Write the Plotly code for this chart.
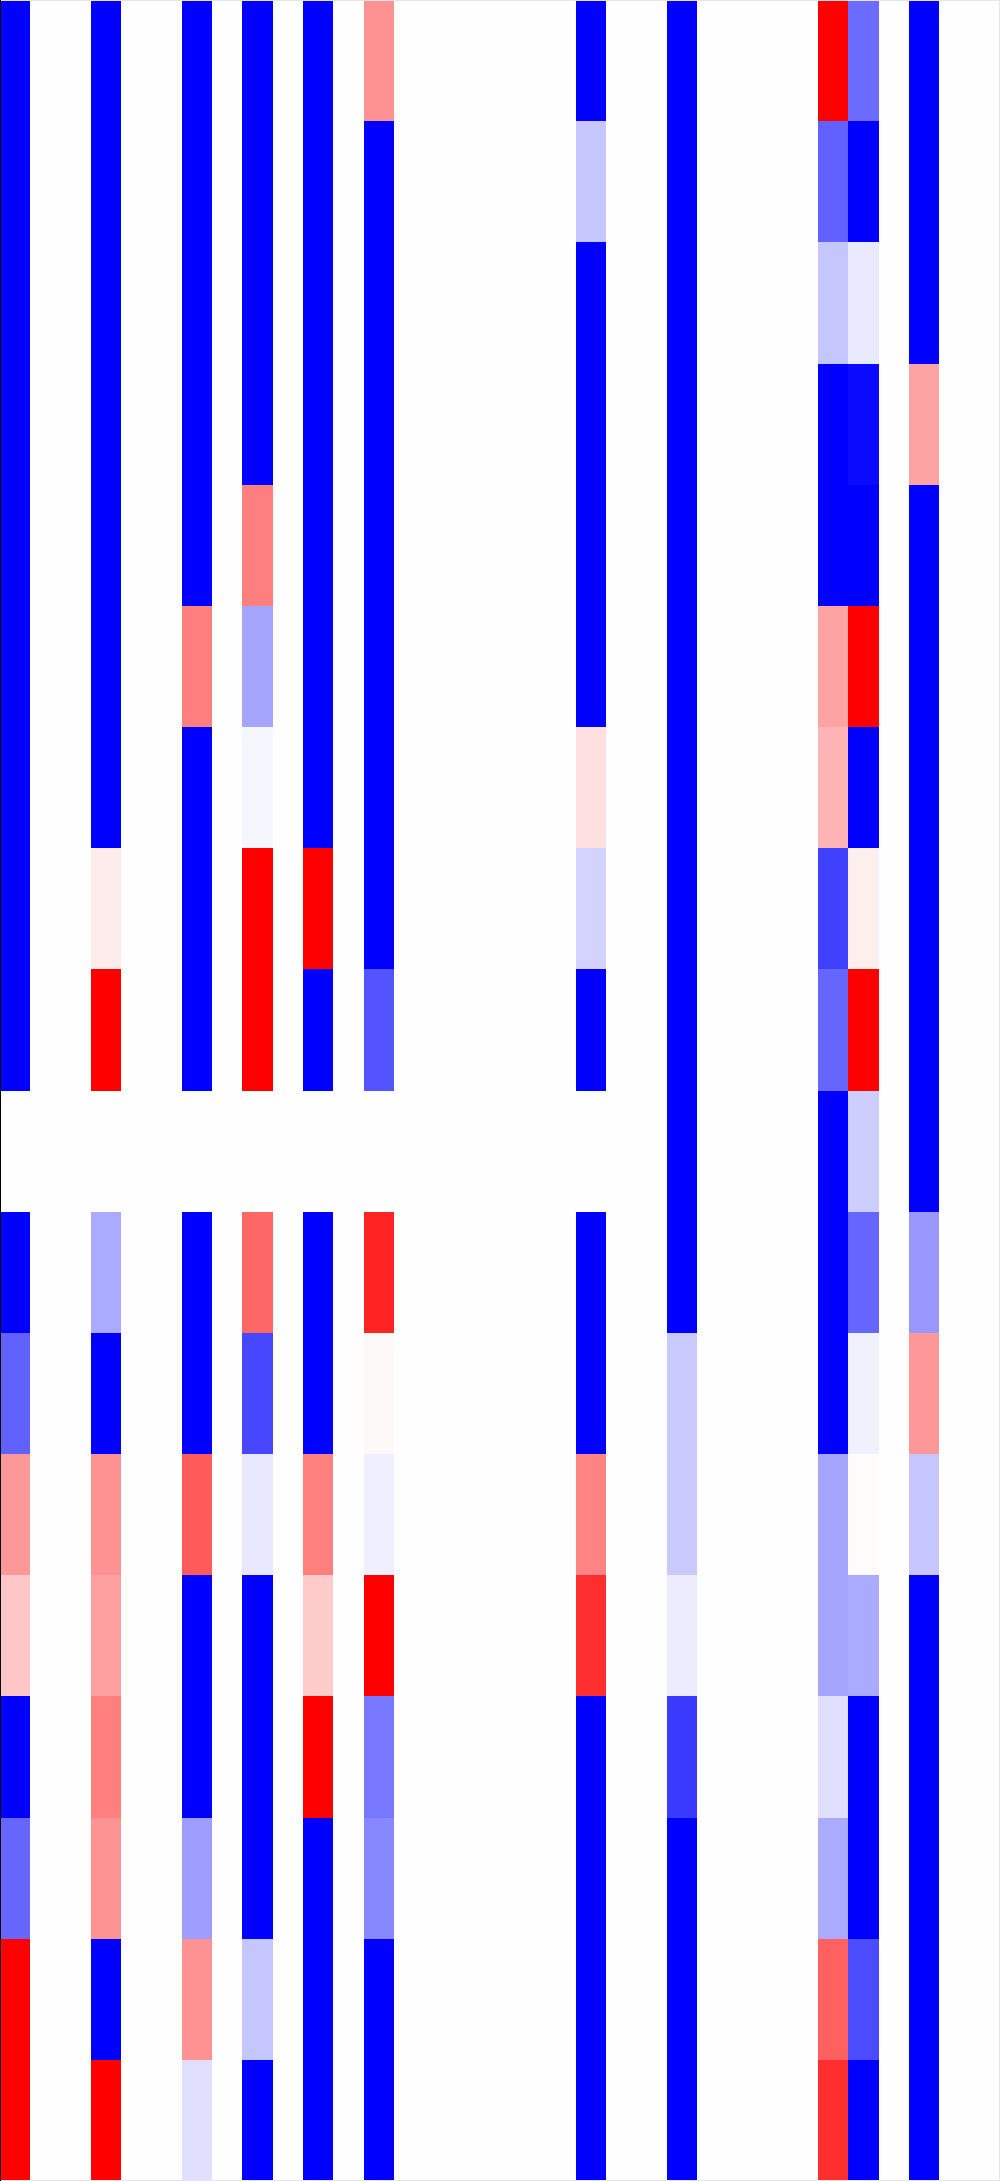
import plotly.graph_objects as go

N_ROWS = 18
N_COLS = 33
row_labels = [f"r{i}" for i in range(N_ROWS)]
col_labels = [f"c{j}" for j in range(N_COLS)]

# Non-zero columns (values top row -> bottom row); None = empty cell
col_00 = [-1, -1, -1, -1, -1, -1, -1, -1, -1, None, -1, -0.62, 0.4, 0.22, -1, -0.6, 1, 1]
col_03 = [-1, -1, -1, -1, -1, -1, -1, 0.07, 1, None, -0.33, -1, 0.43, 0.37, 0.5, 0.42, -1, 1]
col_06 = [-1, -1, -1, -1, -1, 0.5, -1, -1, -1, None, -1, -1, 0.64, -1, -1, -0.38, 0.43, -0.12]
col_08 = [-1, -1, -1, -1, 0.5, -0.35, -0.03, 1, 1, None, 0.6, -0.72, -0.09, -1, -1, -1, -0.22, -1]
col_10 = [-1, -1, -1, -1, -1, -1, -1, 1, -1, None, -1, -1, 0.5, 0.2, 1, -1, -1, -1]
col_12 = [0.43, -1, -1, -1, -1, -1, -1, -1, -0.67, None, 0.86, 0.02, -0.06, 1, -0.53, -0.47, -1, -1]
col_19 = [-1, -0.22, -1, -1, -1, -1, 0.12, -0.17, -1, None, -1, -1, 0.48, 0.82, -1, -1, -1, -1]
col_22 = [-1, -1, -1, -1, -1, -1, -1, -1, -1, -1, -1, -0.21, -0.21, -0.07, -0.77, -1, -1, -1]
col_27 = [1, -0.62, -0.22, -1, -1, 0.36, 0.29, -0.75, -0.6, -1, -1, -1, -0.35, -0.35, -0.12, -0.33, 0.62, 0.82]
col_28 = [-0.58, -1, -0.08, -0.96, -1, 1, -1, 0.06, 1, -0.19, -0.6, -0.05, 0.01, -0.33, -1, -1, -0.7, -1]
col_30 = [-1, -1, -1, 0.36, -1, -1, -1, -1, -1, -1, -0.4, 0.4, -0.22, -1, -1, -1, -1, -1]
zero_col = [0] * N_ROWS

columns = {0: col_00, 3: col_03, 6: col_06, 8: col_08, 10: col_10, 12: col_12,
           19: col_19, 22: col_22, 27: col_27, 28: col_28, 30: col_30}

z = []
for i in range(N_ROWS):
    row = []
    for j in range(N_COLS):
        row.append(columns.get(j, zero_col)[i])
    z.append(row)

fig = go.Figure(go.Heatmap(
    z=z, x=col_labels, y=row_labels,
    colorscale=[[0, "rgb(0,0,255)"], [0.5, "rgb(254,254,254)"], [1, "rgb(255,0,0)"]],
    zmin=-1, zmax=1, showscale=False, xgap=0, ygap=0, hoverongaps=False,
))

fig.update_layout(
    width=1000, height=2181,
    margin=dict(l=0, r=0, t=0, b=0),
    paper_bgcolor="white", plot_bgcolor="rgb(254,254,254)",
    xaxis=dict(visible=False, constrain="domain"),
    yaxis=dict(visible=False, autorange="reversed"),
    shapes=[
        dict(type="rect", xref="paper", yref="paper", x0=0, x1=1, y0=0, y1=1,
             line=dict(color="rgb(230,230,230)", width=2)),
        dict(type="line", xref="paper", yref="paper", x0=0, x1=0, y0=0, y1=1,
             line=dict(color="black", width=2)),
    ],
)

fig.write_html("out.html", config={"displayModeBar": False},
               post_script="document.body.style.margin='0';document.body.style.padding='0';")
